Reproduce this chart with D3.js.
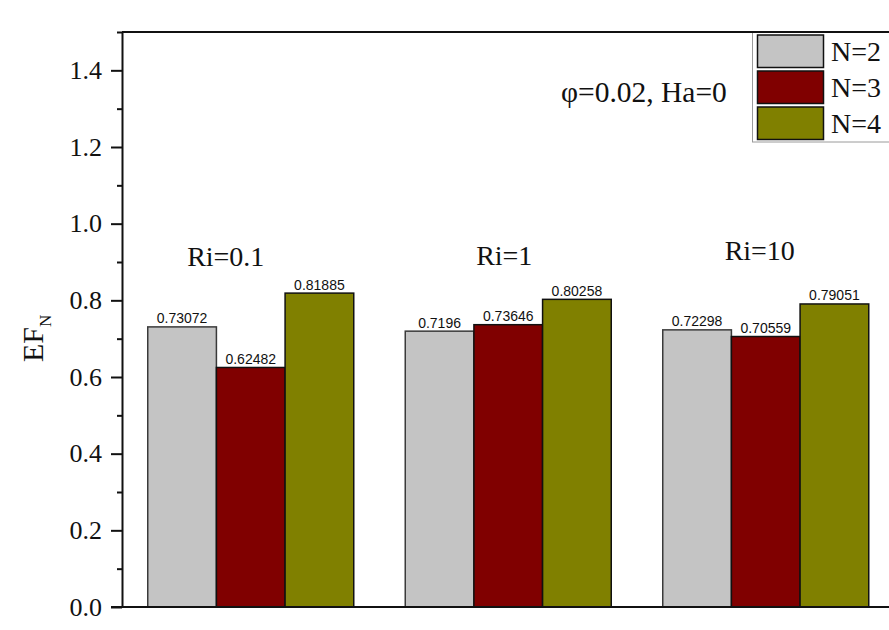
<!DOCTYPE html>
<html>
<head>
<meta charset="utf-8">
<script src="https://cdn.jsdelivr.net/npm/d3@7"></script>
<style>
  html, body { margin: 0; padding: 0; background: #ffffff; }
  svg { display: block; }
</style>
</head>
<body>
<svg id="chart" width="889" height="630"></svg>
<script>
// Entropy-generation ratio EF_N per Richardson number and number of fins
const groups = ["Ri=0.1", "Ri=1", "Ri=10"];
const seriesNames = ["N=2", "N=3", "N=4"];
const valuesN2 = [0.73072, 0.7196, 0.72298];
const valuesN3 = [0.62482, 0.73646, 0.70559];
const valuesN4 = [0.81885, 0.80258, 0.79051];
const valueLabels = [
  ["0.73072", "0.62482", "0.81885"],
  ["0.7196", "0.73646", "0.80258"],
  ["0.72298", "0.70559", "0.79051"]
];
const majorTicks = [0.0, 0.2, 0.4, 0.6, 0.8, 1.0, 1.2, 1.4];
const minorTicks = [0.1, 0.3, 0.5, 0.7, 0.9, 1.1, 1.3, 1.5];
const annotation = "φ=0.02, Ha=0";

const colors = ["#c4c4c4", "#800000", "#808000"];
const seriesValues = [valuesN2, valuesN3, valuesN4];

const svg = d3.select("#chart");
const plotLeft = 122, plotTop = 32, plotBottom = 607, plotRight = 894.5;

const y = d3.scaleLinear().domain([0, 1.5]).range([plotBottom, plotTop]);
const x0 = d3.scaleBand().domain(groups).range([plotLeft, plotRight])
  .paddingInner(0.2).paddingOuter(0.1);
const x1 = d3.scaleBand().domain(seriesNames).range([0, x0.bandwidth()]).padding(0);

// Bars with value labels
const g = svg.append("g");
groups.forEach((grp, gi) => {
  seriesNames.forEach((s, si) => {
    const v = seriesValues[si][gi];
    const bx = x0(grp) + x1(s);
    g.append("rect")
      .attr("x", bx)
      .attr("y", y(v))
      .attr("width", x1.bandwidth())
      .attr("height", y(0) - y(v))
      .attr("fill", colors[si])
      .attr("stroke", si === 0 ? "#3a3a3a" : "#111")
      .attr("stroke-width", 1.5);
    g.append("text")
      .attr("x", bx + x1.bandwidth() / 2)
      .attr("y", y(v) - 3.5)
      .attr("text-anchor", "middle")
      .attr("font-family", "Liberation Sans, Arial, sans-serif")
      .attr("font-size", 14)
      .attr("fill", "#111")
      .text(valueLabels[gi][si]);
  });
});

// Group captions
const captionShift = [-25, -4, -6];
const captionBase = [266, 265, 260];
groups.forEach((grp, gi) => {
  svg.append("text")
    .attr("x", x0(grp) + x0.bandwidth() / 2 + captionShift[gi])
    .attr("y", captionBase[gi])
    .attr("text-anchor", "middle")
    .attr("font-family", "Liberation Serif, Times New Roman, serif")
    .attr("font-size", 28)
    .attr("fill", "#111")
    .text(grp);
});

// Y axis: major ticks with labels, minor ticks without
const yAxis = d3.axisLeft(y).tickValues(majorTicks).tickFormat(d3.format(".1f"))
  .tickSize(11).tickSizeOuter(0).tickPadding(9);
const ya = svg.append("g").attr("transform", `translate(${plotLeft},0)`).call(yAxis);
ya.select(".domain").attr("stroke", "#111").attr("stroke-width", 2);
ya.selectAll(".tick line").attr("stroke", "#111").attr("stroke-width", 2);
ya.selectAll(".tick text")
  .attr("font-family", "Liberation Serif, Times New Roman, serif")
  .attr("font-size", 26)
  .attr("fill", "#111");

const yMinor = d3.axisLeft(y).tickValues(minorTicks).tickFormat("").tickSize(5).tickSizeOuter(0);
const ym = svg.append("g").attr("transform", `translate(${plotLeft},0)`).call(yMinor);
ym.select(".domain").remove();
ym.selectAll(".tick line").attr("stroke", "#111").attr("stroke-width", 2);

// Bottom axis line
svg.append("line").attr("x1", plotLeft - 11).attr("x2", plotRight).attr("y1", plotBottom).attr("y2", plotBottom)
  .attr("stroke", "#111").attr("stroke-width", 2);

// Y axis title EF_N
const yt = svg.append("text")
  .attr("transform", "translate(43,362) rotate(-90)")
  .attr("font-family", "Liberation Serif, Times New Roman, serif")
  .attr("font-size", 30)
  .attr("fill", "#111");
yt.append("tspan").text("EF");
yt.append("tspan").attr("font-size", 17).attr("dy", 8).text("N");

// Annotation
svg.append("text")
  .attr("x", 561)
  .attr("y", 102)
  .attr("font-family", "Liberation Serif, Times New Roman, serif")
  .attr("font-size", 29.5)
  .attr("fill", "#111")
  .text(annotation);

// Legend
const lg = svg.append("g");
lg.append("rect").attr("x", 752.5).attr("y", plotTop).attr("width", 160).attr("height", 142 - plotTop)
  .attr("fill", "#fff").attr("stroke", "#9a9a9a").attr("stroke-width", 1);
seriesNames.forEach((s, i) => {
  const yy = 35 + i * 36;
  lg.append("rect").attr("x", 757.5).attr("y", yy).attr("width", 66).attr("height", 32.5)
    .attr("fill", colors[i]).attr("stroke", "#111").attr("stroke-width", 1.5);
  lg.append("text").attr("x", 831).attr("y", yy + 26)
    .attr("font-family", "Liberation Serif, Times New Roman, serif")
    .attr("font-size", 28)
    .attr("fill", "#111")
    .text(s);
});

// Top border of the plot frame
svg.append("line").attr("x1", plotLeft).attr("x2", plotRight).attr("y1", plotTop).attr("y2", plotTop)
  .attr("stroke", "#111").attr("stroke-width", 2);
</script>
</body>
</html>
